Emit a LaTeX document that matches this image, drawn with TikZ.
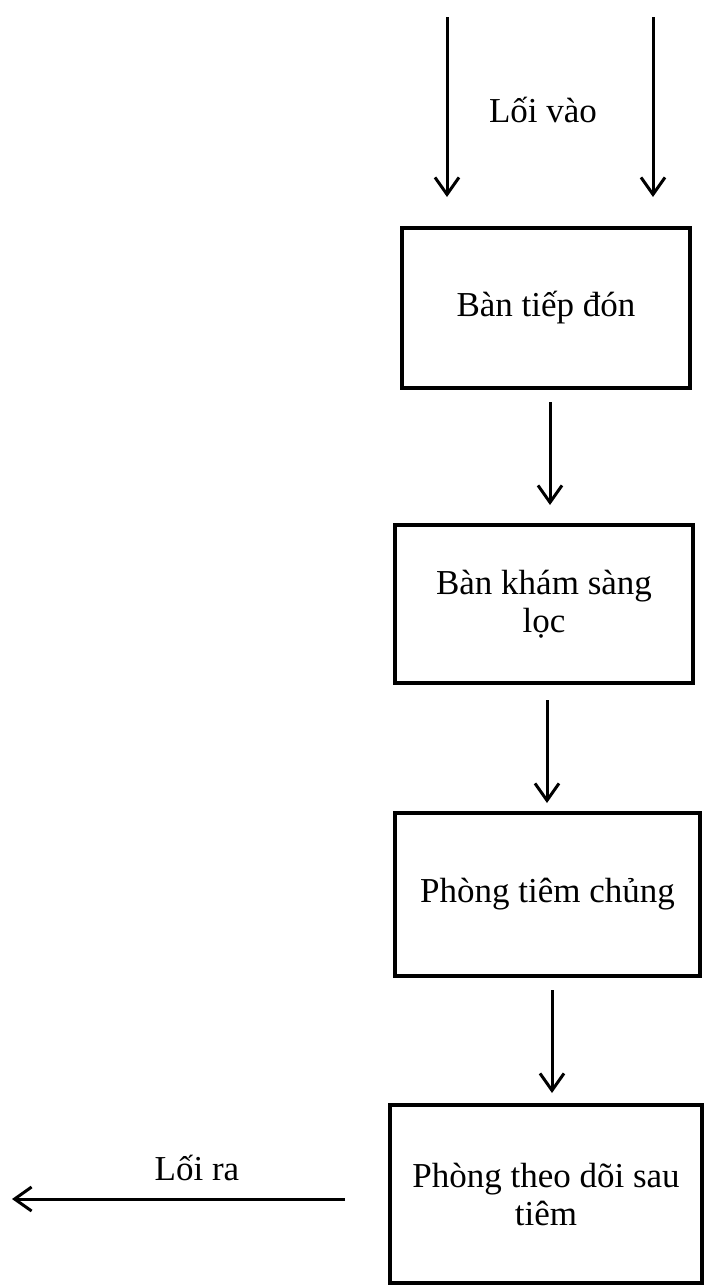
\documentclass[tikz,border=0pt]{standalone}
\usepackage{fontspec}
\setmainfont{Liberation Serif}
\usetikzlibrary{arrows.meta}
\tikzset{
  stagebox/.style={draw=black, line width=4pt, align=center, inner sep=0pt,
    font=\fontsize{35}{38}\selectfont},
  arr/.style={draw=black, line width=3pt, -{Straight Barb[length=17pt,width=24pt]}},
  lbl/.style={font=\fontsize{35}{38}\selectfont, inner sep=0pt}
}
\begin{document}
\begin{tikzpicture}[x=1pt,y=-1pt]
\useasboundingbox (0,0) rectangle (704,1288);
\fill[white] (0,0) rectangle (704,1288);

\node[stagebox, minimum width=288pt, minimum height=160pt] (b1) at (546,308) {Bàn tiếp đón};
\node[stagebox, minimum width=298pt, minimum height=158pt] (b2) at (544,604) {Bàn khám sàng\\lọc};
\node[stagebox, minimum width=305pt, minimum height=163pt] (b3) at (547.5,894.5) {Phòng tiêm chủng};
\node[stagebox, minimum width=312pt, minimum height=178pt] (b4) at (546,1194) {Phòng theo dõi sau\\tiêm};

\coordinate (inLs) at (447,17);
\coordinate (inLe) at (447,197);
\coordinate (inRs) at (653,17);
\coordinate (inRe) at (653,197);
\coordinate (outE) at (12,1199);

\node[lbl] (lin) at (543,110) {Lối vào};
\node[lbl] (lout) at (197,1168) {Lối ra};

\draw[arr] (inLs) -- (inLe);
\draw[arr] (inRs) -- (inRe);
\draw[arr, shorten <=12pt, shorten >=18pt] ([xshift=4pt]b1.south) -- ([xshift=6pt]b2.north);
\draw[arr, shorten <=15pt, shorten >=8pt] ([xshift=3pt]b2.south) -- ([xshift=-0.5pt]b3.north);
\draw[arr, shorten <=12pt, shorten >=10pt] ([xshift=4.5pt]b3.south) -- ([xshift=6pt]b4.north);
\draw[arr, shorten <=43pt] ([yshift=-5pt]b4.west) -- (outE);
\end{tikzpicture}
\end{document}
